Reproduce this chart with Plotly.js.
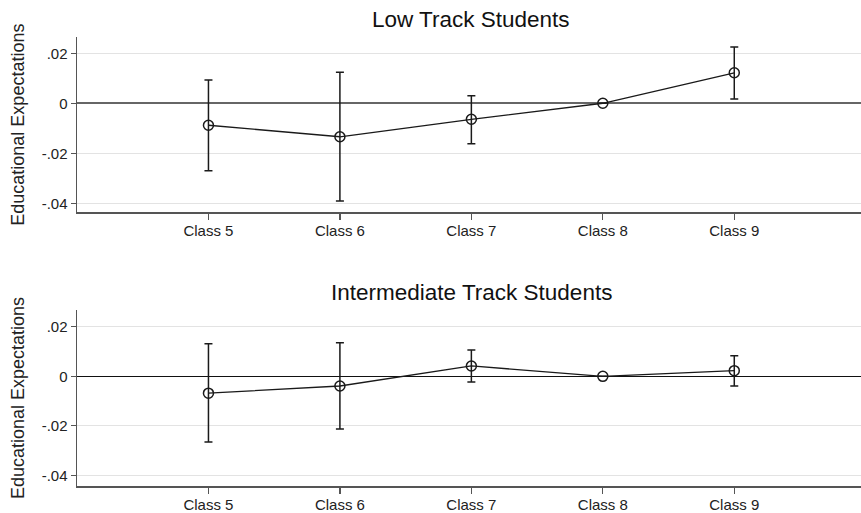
<!DOCTYPE html>
<html>
<head>
<meta charset="utf-8">
<script src="https://cdn.plot.ly/plotly-3.0.1.min.js"></script>
<style>html,body{margin:0;padding:0;background:#fff;}#chart{width:861px;height:513px;}</style>
</head>
<body>
<div id="chart"></div>
<script>
// Data
var classes = [5, 6, 7, 8, 9];
var classLabels = ['Class 5', 'Class 6', 'Class 7', 'Class 8', 'Class 9'];

var lowEst = [-0.0088, -0.0134, -0.0064, 0, 0.0122];
var lowHi  = [0.0093, 0.0124, 0.0030, null, 0.0225];
var lowLo  = [-0.0270, -0.0391, -0.0162, null, 0.0017];

var intEst = [-0.0068, -0.0039, 0.0042, 0, 0.0023];
var intHi  = [0.0132, 0.0136, 0.0106, null, 0.0083];
var intLo  = [-0.0265, -0.0213, -0.0023, null, -0.0039];

var yTickVals = [0.02, 0, -0.02, -0.04];
var yTickText = ['.02', '0', '-.02', '-.04'];

var titles = ['Low Track Students', 'Intermediate Track Students'];
var yTitle = 'Educational Expectations';

function plus(est, hi) { return est.map(function (v, i) { return hi[i] === null ? null : hi[i] - v; }); }
function minus(est, lo) { return est.map(function (v, i) { return lo[i] === null ? null : v - lo[i]; }); }

var ink = '#1a1a1a';
function trace(est, hi, lo, xa, ya) {
  return {
    x: classes, y: est, xaxis: xa, yaxis: ya,
    type: 'scatter', mode: 'lines+markers',
    line: {color: ink, width: 1.3},
    marker: {symbol: 'circle-open', size: 10, color: ink, line: {color: ink, width: 1.5}},
    error_y: {type: 'data', symmetric: false, array: plus(est, hi), arrayminus: minus(est, lo),
              color: ink, thickness: 1.5, width: 4},
    showlegend: false, hoverinfo: 'skip'
  };
}

var font = {family: 'Arial, "Liberation Sans", sans-serif', color: '#222'};

function xAxis(anchor) {
  return {
    anchor: anchor, range: [4, 9.964], tickvals: classes, ticktext: classLabels,
    showgrid: false, zeroline: false, showline: true, linecolor: '#555', linewidth: 1.5,
    ticks: 'outside', ticklen: 6, tickcolor: '#555', tickwidth: 1.2,
    tickfont: {family: font.family, size: 15, color: '#222'}, ticklabelstandoff: -2
  };
}
function yAxis(anchor, domain, range, zcolor, zwidth) {
  return {
    anchor: anchor, domain: domain, range: range,
    tickvals: yTickVals, ticktext: yTickText,
    showgrid: true, gridcolor: '#e3e3e3', gridwidth: 1.2,
    zeroline: true, zerolinecolor: zcolor, zerolinewidth: zwidth,
    showline: true, linecolor: '#555', linewidth: 1.5,
    ticks: 'outside', ticklen: 5, tickcolor: '#555', tickwidth: 1.2,
    tickfont: {family: font.family, size: 15, color: '#222'},
    title: {text: yTitle, font: {family: font.family, size: 18, color: '#222'}, standoff: 12}
  };
}

var layout = {
  width: 861, height: 513,
  margin: {l: 77, r: 0, t: 37, b: 27},
  paper_bgcolor: '#fff', plot_bgcolor: '#fff',
  font: font,
  xaxis: xAxis('y'),
  yaxis: yAxis('x', [0.6096, 1], [-0.0436, 0.0265], '#666', 1.6),
  xaxis2: xAxis('y2'),
  yaxis2: yAxis('x2', [0, 0.392], [-0.0443, 0.0268], '#111', 1.2),
  annotations: [
    {text: titles[0], xref: 'paper', yref: 'paper', x: 0.503, y: 1.038, xanchor: 'center', yanchor: 'middle',
     showarrow: false, font: {family: font.family, size: 22.5, color: '#111'}},
    {text: titles[1], xref: 'paper', yref: 'paper', x: 0.503, y: 0.43, xanchor: 'center', yanchor: 'middle',
     showarrow: false, font: {family: font.family, size: 22.5, color: '#111'}}
  ]
};

Plotly.newPlot('chart', [
  trace(lowEst, lowHi, lowLo, 'x', 'y'),
  trace(intEst, intHi, intLo, 'x2', 'y2')
], layout, {staticPlot: true, displayModeBar: false});
</script>
</body>
</html>
